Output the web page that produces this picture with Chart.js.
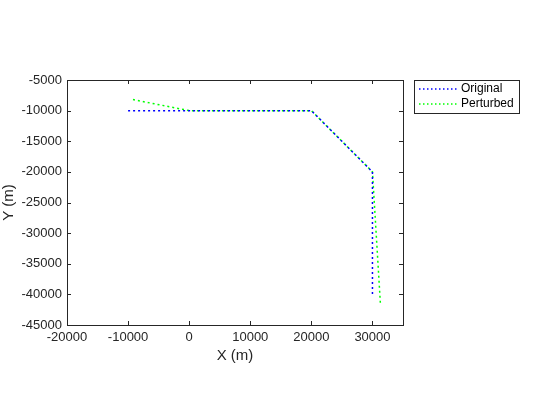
<!DOCTYPE html>
<html>
<head>
<meta charset="utf-8">
<script src="https://cdn.jsdelivr.net/npm/chart.js@4"></script>
<style>
    html, body { margin: 0; padding: 0; background: #fff; }
    #wrap { width: 560px; height: 420px; }
</style>
</head>
<body>
<div id="wrap"><canvas id="grafico" width="560" height="420"></canvas></div>
<script>
// dados
const originalX = [-10000, 0, 20000, 30000, 30000];
const originalY = [-10000, -10000, -10000, -20000, -40000];
const perturbedX = [-9200, 0, 20000, 30000, 31300];
const perturbedY = [-8200, -10000, -10000, -20000, -41500];

const seriesNames = ['Original', 'Perturbed'];
const xTicks = [-20000, -10000, 0, 10000, 20000, 30000];
const yTicks = [-45000, -40000, -35000, -30000, -25000, -20000, -15000, -10000, -5000];

const FONT = '"Liberation Sans", Arial, sans-serif';

const toPoints = (xs, ys) => xs.map((x, i) => ({ x: x, y: ys[i] }));

// caixa, ticks internos e legenda estilo MATLAB
const boxPlugin = {
    id: 'boxPlugin',
    afterDraw(chart) {
        const ctx = chart.ctx;
        const a = chart.chartArea;
        const xs = chart.scales.x;
        const ys = chart.scales.y;
        ctx.save();
        ctx.strokeStyle = '#262626';
        ctx.lineWidth = 1;
        ctx.strokeRect(Math.round(a.left) + 0.5, Math.round(a.top) + 0.5,
            Math.round(a.right - a.left), Math.round(a.bottom - a.top));
        ctx.beginPath();
        xTicks.forEach(v => {
            const px = Math.round(xs.getPixelForValue(v)) + 0.5;
            ctx.moveTo(px, a.bottom); ctx.lineTo(px, a.bottom - 4);
            ctx.moveTo(px, a.top); ctx.lineTo(px, a.top + 4);
        });
        yTicks.forEach(v => {
            const py = Math.round(ys.getPixelForValue(v)) + 0.5;
            ctx.moveTo(a.left, py); ctx.lineTo(a.left + 4, py);
            ctx.moveTo(a.right, py); ctx.lineTo(a.right - 4, py);
        });
        ctx.stroke();

        // legenda
        const lx = 414, ly = 80, lw = 105, lh = 33;
        ctx.fillStyle = '#fff';
        ctx.fillRect(lx, ly, lw, lh);
        ctx.strokeStyle = '#262626';
        ctx.strokeRect(lx + 0.5, ly + 0.5, lw, lh);
        ctx.font = '12px ' + FONT;
        ctx.textBaseline = 'middle';
        chart.data.datasets.forEach((ds, i) => {
            const yy = ly + 9 + i * 14.5;
            ctx.beginPath();
            ctx.setLineDash([1.5, 2.5]);
            ctx.lineWidth = 1.5;
            ctx.strokeStyle = ds.borderColor;
            ctx.moveTo(lx + 5, Math.round(yy));
            ctx.lineTo(lx + 44, Math.round(yy));
            ctx.stroke();
            ctx.setLineDash([]);
            ctx.fillStyle = '#000';
            ctx.fillText(ds.label, lx + 47, yy);
        });
        ctx.restore();
    }
};

const data = {
    datasets: [
        {
            label: seriesNames[0],
            data: toPoints(originalX, originalY),
            borderColor: 'rgb(0, 0, 255)',
            borderDash: [2, 3],
            borderWidth: 1.5
        },
        {
            label: seriesNames[1],
            data: toPoints(perturbedX, perturbedY),
            borderColor: 'rgb(0, 255, 0)',
            borderDash: [2, 3],
            borderWidth: 1.5
        }
    ]
};

const config = {
    type: 'scatter',
    data: data,
    options: {
        responsive: false,
        animation: false,
        showLine: true,
        elements: { point: { radius: 0 }, line: { tension: 0 } },
        layout: { padding: { left: 0, right: 157, top: 80, bottom: 55 } },
        plugins: { legend: { display: false }, tooltip: { enabled: false } },
        scales: {
            x: {
                type: 'linear', min: -20000, max: 35000,
                afterBuildTicks: s => { s.ticks = xTicks.map(v => ({ value: v })); },
                afterFit: s => { s.height = 40; },
                grid: { display: false, drawTicks: false },
                border: { display: false },
                ticks: { color: '#262626', font: { family: FONT, size: 13 }, padding: 5, maxRotation: 0,
                    callback: v => String(v) },
                title: { display: true, text: 'X (m)', color: '#262626', font: { family: FONT, size: 15 }, padding: 0 }
            },
            y: {
                type: 'linear', min: -45000, max: -5000,
                afterBuildTicks: s => { s.ticks = yTicks.map(v => ({ value: v })); },
                afterFit: s => { s.width = 67; },
                grid: { display: false, drawTicks: false },
                border: { display: false },
                ticks: { color: '#262626', font: { family: FONT, size: 13 }, padding: 5,
                    callback: v => String(v) },
                title: { display: true, text: 'Y (m)', color: '#262626', font: { family: FONT, size: 15 }, padding: 0 }
            }
        }
    },
    plugins: [boxPlugin]
};

new Chart(document.getElementById('grafico').getContext('2d'), config);
</script>
</body>
</html>
